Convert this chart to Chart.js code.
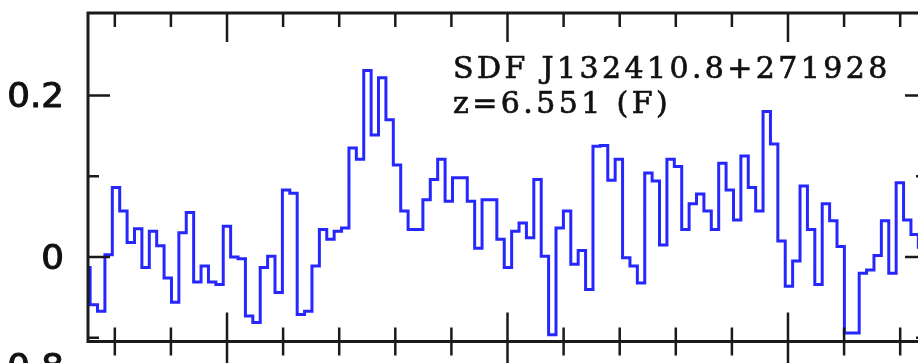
<!DOCTYPE html>
<html>
<head>
<meta charset="utf-8">
<script src="https://cdn.jsdelivr.net/npm/chart.js@4.4.0/dist/chart.umd.min.js"></script>
<style>
    html, body { margin: 0; padding: 0; background: #fff; overflow: hidden; }
    #wrap { width: 960px; height: 363px; }
</style>
</head>
<body>
<div id="wrap"><canvas id="spec" width="960" height="363"></canvas></div>
<script>
// wavelength grid of the spectrum (Angstrom), uniform bins
var lambdaFirst = 9124.94;
var binWidth = 1.3182;

// flux per bin (arbitrary units)
var flux = [
    -0.013, -0.059, -0.067, 0.003, 0.086, 0.057, 0.018, 0.035, -0.013, 0.032,
    0.014, -0.026, -0.056, 0.030, 0.055, -0.031, -0.011, -0.031, -0.034, 0.038,
    0.000, -0.002, -0.073, -0.081, -0.013, 0.001, -0.044, 0.083, 0.079, -0.071,
    -0.067, -0.011, 0.034, 0.022, 0.032, 0.036, 0.135, 0.121, 0.231, 0.151,
    0.222, 0.170, 0.114, 0.057, 0.034, 0.034, 0.071, 0.096, 0.121, 0.069,
    0.098, 0.098, 0.069, 0.011, 0.071, 0.071, 0.022, -0.013, 0.032, 0.042,
    0.024, 0.096, 0.001, -0.096, 0.036, 0.057, -0.009, 0.008, -0.040, 0.137,
    0.138, 0.095, 0.121, -0.001, -0.011, -0.032, 0.104, 0.094, 0.015, 0.121,
    0.112, 0.034, 0.066, 0.078, 0.057, 0.034, 0.116, 0.083, 0.046, 0.125,
    0.086, 0.057, 0.180, 0.140, 0.020, -0.036, -0.005, 0.088, 0.034, -0.034,
    0.066, 0.045, 0.013, -0.094, -0.094, -0.020, -0.016, 0.002, 0.045, -0.020,
    0.092, 0.046, 0.028, 0.012
];

var xMajorTicks = [9150, 9200, 9250];
var xMinorTicks = [9130, 9140, 9160, 9170, 9180, 9190, 9210, 9220, 9230, 9240, 9260, 9270];
var yMajorTicks = [0, 0.2];
var yMinorTicks = [-0.1, 0.1];
var yTickLabels = ['0', '0.2'];
var nextPanelLabel = '0.8';

var objectName = 'SDF J132410.8+271928';
var redshiftText = 'z=6.551 (F)';

var points = flux.map(function (f, i) {
    return { x: lambdaFirst + i * binWidth, y: f };
});

// draws the PGPLOT-like frame: inward ticks, labels and the annotation
var framePlugin = {
    id: 'frame',
    afterDatasetsDraw: function (chart) {
        var ctx = chart.ctx;
        var a = chart.chartArea;
        var xs = chart.scales.x;
        var ys = chart.scales.y;
        ctx.save();
        ctx.strokeStyle = '#1a1a1a';
        ctx.lineCap = 'butt';

        ctx.lineWidth = 2.5;
        function xTick(v, len) {
            var px = xs.getPixelForValue(v);
            ctx.beginPath();
            ctx.moveTo(px, a.top); ctx.lineTo(px, a.top + len);
            ctx.moveTo(px, a.bottom); ctx.lineTo(px, a.bottom - len);
            // ticks of the panel below
            ctx.moveTo(px, a.bottom); ctx.lineTo(px, a.bottom + len);
            ctx.stroke();
        }
        function yTick(v, len) {
            var py = ys.getPixelForValue(v);
            ctx.beginPath();
            ctx.moveTo(a.left, py); ctx.lineTo(a.left + len, py);
            ctx.moveTo(a.right, py); ctx.lineTo(a.right - len, py);
            ctx.stroke();
        }
        xMajorTicks.forEach(function (v) { xTick(v, 29); });
        xMinorTicks.forEach(function (v) { xTick(v, 14); });
        yMajorTicks.forEach(function (v) { yTick(v, 22); });
        yMinorTicks.forEach(function (v) { yTick(v, 11); });

        ctx.lineWidth = 3;
        ctx.strokeRect(a.left, a.top, a.right - a.left, a.bottom - a.top);

        // y labels, slightly stretched and thickened sans like the original
        ctx.fillStyle = '#111';
        ctx.strokeStyle = '#111';
        ctx.lineWidth = 1;
        ctx.font = '33px "DejaVu Sans"';
        ctx.textAlign = 'right';
        ctx.textBaseline = 'middle';
        function label(txt, py) {
            ctx.save();
            ctx.translate(64, py);
            ctx.scale(1.08, 1);
            ctx.fillText(txt, 0, 0);
            ctx.strokeText(txt, 0, 0);
            ctx.restore();
        }
        yMajorTicks.forEach(function (v, i) {
            label(yTickLabels[i], ys.getPixelForValue(v) + 3);
        });
        label(nextPanelLabel, a.bottom + 28);

        ctx.textAlign = 'left';
        ctx.textBaseline = 'alphabetic';
        ctx.font = '30px "DejaVu Serif"';
        ctx.letterSpacing = '3.4px';
        ctx.lineWidth = 0.7;
        ctx.fillText(objectName, 453, 77.5);
        ctx.strokeText(objectName, 453, 77.5);
        ctx.fillText(redshiftText, 453, 113);
        ctx.strokeText(redshiftText, 453, 113);
        ctx.restore();
    }
};

var config = {
    type: 'line',
    data: {
        datasets: [{
            data: points,
            stepped: 'middle',
            borderColor: '#2626ff',
            borderWidth: 3,
            pointRadius: 0,
            fill: false
        }]
    },
    options: {
        responsive: false,
        animation: false,
        devicePixelRatio: 1,
        layout: {
            padding: { left: 88, right: 33, top: 13, bottom: 21.5 }
        },
        plugins: {
            legend: { display: false },
            tooltip: { enabled: false }
        },
        scales: {
            x: { type: 'linear', min: 9125.22, max: 9274.78, display: false },
            y: { min: -0.1045, max: 0.302, display: false }
        }
    },
    plugins: [framePlugin]
};

var spectrumChart = new Chart(document.getElementById('spec'), config);
</script>
</body>
</html>
